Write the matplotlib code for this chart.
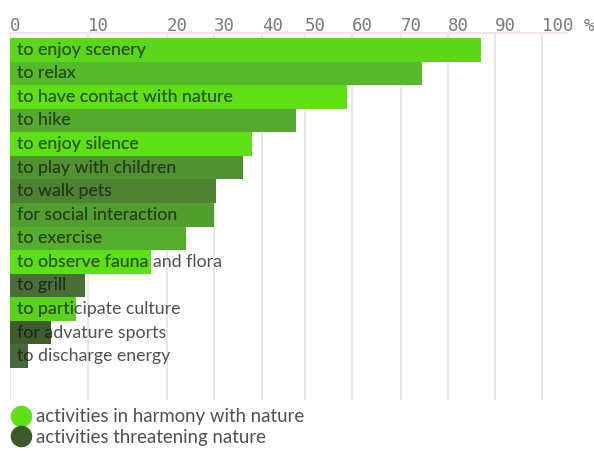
import numpy as np
import matplotlib
matplotlib.use("Agg")
import matplotlib.pyplot as plt
from matplotlib.lines import Line2D
from matplotlib.colors import to_rgb

# ---- data ----
activities = ["to enjoy scenery", "to relax", "to have contact with nature", "to hike",
              "to enjoy silence", "to play with children", "to walk pets",
              "for social interaction", "to exercise", "to observe fauna and flora",
              "to grill", "to participate culture", "for advature sports",
              "to discharge energy"]
percent = [87, 74.5, 59, 48, 38, 36, 30.5, 30, 24, 18, 9.6, 8.5, 5.2, 2.3]
bar_colors = ["#5cd61b", "#56b82b", "#5ee014", "#55a92f", "#5de016", "#4f922f",
              "#4c8232", "#529f2f", "#56ac2c", "#5de016", "#4a6e37", "#5ad21e",
              "#3f5c2c", "#47683a"]
tick_values = [0, 10, 20, 30, 40, 50, 60, 70, 80, 90, 100]
tick_labels = ["0", "10", "20", "30", "40", "50", "60", "70", "80", "90", "100 %"]
legend_labels = ["activities in harmony with nature", "activities threatening nature"]
legend_colors = ["#5ee014", "#3e5a2c"]

# ---- non-uniform axis of the original graphic (pixel spacing of ticks) ----
tick_px = np.array([10, 88, 167, 214, 262, 305, 352, 401, 448, 495, 542], float)
tv = np.array(tick_values, float)
s_lo, s_hi = 7.8, 4.7


def fwd(v):
    v = np.asarray(v, float)
    out = np.interp(v, tv, tick_px)
    out = np.where(v < tv[0], tick_px[0] + (v - tv[0]) * s_lo, out)
    out = np.where(v > tv[-1], tick_px[-1] + (v - tv[-1]) * s_hi, out)
    return out


def inv(p):
    p = np.asarray(p, float)
    out = np.interp(p, tick_px, tv)
    out = np.where(p < tick_px[0], tv[0] + (p - tick_px[0]) / s_lo, out)
    out = np.where(p > tick_px[-1], tv[-1] + (p - tick_px[-1]) / s_hi, out)
    return out


W, H = 594, 451
fig = plt.figure(figsize=(W / 100, H / 100), dpi=100)
# axes region in pixels: x 10..567, y 33..400 (from top)
ax = fig.add_axes([10 / W, 1 - 400 / H, (567 - 10) / W, (400 - 33) / H])
ax.set_xscale("function", functions=(fwd, inv))
ax.set_xlim(0, 100 + (567 - 542) / s_hi)
n = len(activities)
ax.set_ylim(n - 0.5 + (400 - 368) / 23.57, -0.5 - (38 - 33) / 23.57)

ypos = np.arange(n)
bars = ax.barh(ypos, percent, height=1.0, color=bar_colors, zorder=2, linewidth=0)

ax.xaxis.tick_top()
ax.set_xticks(tick_values)
ax.set_xticklabels(tick_labels, family="DejaVu Sans Mono", fontsize=12.5, color="#7a7a7a")
for lbl in ax.get_xticklabels():
    lbl.set_horizontalalignment("left")
ax.tick_params(axis="x", length=0, pad=-1.5)
ax.set_yticks([])
ax.grid(axis="x", color="#e8e8e8", linewidth=1.6, zorder=0)
ax.set_axisbelow(True)
for side in ["left", "right", "bottom"]:
    ax.spines[side].set_visible(False)
ax.spines["top"].set_color("#efe6e6")
ax.spines["top"].set_linewidth(1.5)

font = "Lato"
fs = 12.8
for i, (lab, bar, c) in enumerate(zip(activities, bars.patches, bar_colors)):
    ax.annotate(lab, xy=(0, i), xytext=(5, 0), textcoords="offset points",
                va="center", ha="left", fontsize=fs, family=font, color="#505050", zorder=3)
    dark = tuple(np.array(to_rgb(c)) * 0.42)
    t = ax.annotate(lab, xy=(0, i), xytext=(5, 0), textcoords="offset points",
                    va="center", ha="left", fontsize=fs, family=font, color=dark, zorder=4)
    t.set_clip_path(bar)

handles = [Line2D([], [], linestyle="none", marker="o", markersize=14.5,
                  markerfacecolor=c, markeredgecolor=c) for c in legend_colors]
fig.legend(handles, legend_labels, loc="upper left",
           bbox_to_anchor=(0 / W, 1 - 399 / H), frameon=False,
           prop={"family": font, "size": 13.4}, labelcolor="#505050",
           handletextpad=0.15, labelspacing=0.18, borderaxespad=0.2, borderpad=0.3,
           handlelength=1.3)

fig.savefig("out.png", dpi=100, facecolor="white")
